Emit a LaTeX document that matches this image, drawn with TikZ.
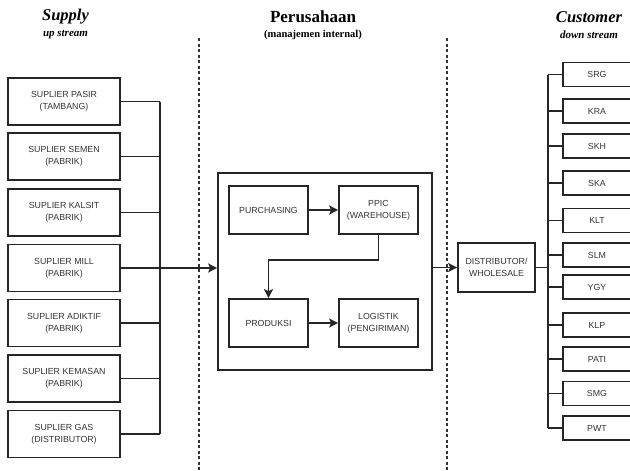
\documentclass[tikz,border=0pt]{standalone}
\usepackage{fontspec}
\setmainfont{Liberation Serif}
\newfontfamily\boxfont{Liberation Sans}
\usetikzlibrary{arrows.meta}

\tikzset{
  unit/.style={draw=black!85, line width=1.7pt, align=center, inner sep=1pt,
    font=\boxfont\fontsize{8.8}{12}\selectfont, text=black!80},
  supbox/.style={unit, minimum width=112pt, minimum height=47pt},
  inbox/.style={unit, minimum width=79pt, minimum height=48pt},
  custbox/.style={unit, minimum width=68pt, minimum height=24pt},
  wire/.style={draw=black!85, line width=1.7pt},
  arr/.style={wire, -{Stealth[length=9pt,width=9pt,inset=2pt]}},
  divider/.style={line width=1.6pt, dash pattern=on 3pt off 2.5pt, black!80}
}

\begin{document}
\begin{tikzpicture}[x=1pt,y=-1pt]
    \clip (0,0) rectangle (630,471);
    \useasboundingbox (0,0) rectangle (630,471);

    % titles
    \node[font=\bfseries\itshape\fontsize{16.5}{18}\selectfont] (supply) at (65.5,17) {Supply};
    \node[font=\bfseries\itshape\fontsize{11}{12}\selectfont] (upstream) at (65.5,35) {up stream};
    \node[font=\bfseries\fontsize{17}{18}\selectfont] (perusahaan) at (313,17) {Perusahaan};
    \node[font=\bfseries\fontsize{10.5}{12}\selectfont] (internal) at (313,35) {(manajemen internal)};
    \node[font=\bfseries\itshape\fontsize{16.5}{18}\selectfont] (customer) at (589,17) {Customer};
    \node[font=\bfseries\itshape\fontsize{11}{12}\selectfont] (downstream) at (589,35) {down stream};

    % dividers
    \coordinate (d1top) at (199,38);
    \coordinate (d1bot) at (199,471);
    \coordinate (d2top) at (447,38);
    \coordinate (d2bot) at (447,471);
    \draw[divider] (d1top) -- (d1bot);
    \draw[divider] (d2top) -- (d2bot);

    % suppliers
    \node[supbox] (pasir) at (64,101.5) {SUPLIER PASIR\\(TAMBANG)};
    \node[supbox] (semen) at (64,156.5) {SUPLIER SEMEN\\(PABRIK)};
    \node[supbox] (kalsit) at (64,212.5) {SUPLIER KALSIT\\(PABRIK)};
    \node[supbox] (mill) at (64,268) {SUPLIER MILL\\(PABRIK)};
    \node[supbox] (adiktif) at (64,323) {SUPLIER ADIKTIF\\(PABRIK)};
    \node[supbox] (kemasan) at (64,378.5) {SUPLIER KEMASAN\\(PABRIK)};
    \node[supbox] (gas) at (64,434) {SUPLIER GAS\\(DISTRIBUTOR)};

    \coordinate (bustop) at (160,101.5);
    \coordinate (busbot) at (160,434);
    \draw[wire] (bustop) -- (busbot);
    \draw[wire] (pasir.east) -- (pasir.east -| bustop);
    \draw[wire] (semen.east) -- (semen.east -| bustop);
    \draw[wire] (kalsit.east) -- (kalsit.east -| bustop);
    \draw[wire] (adiktif.east) -- (adiktif.east -| bustop);
    \draw[wire] (kemasan.east) -- (kemasan.east -| bustop);
    \draw[wire] (gas.east) -- (gas.east -| bustop);

    % company
    \node[unit, minimum width=214pt, minimum height=197pt] (company) at (325,271.5) {};
    \node[inbox] (purchasing) at (268.5,210) {PURCHASING};
    \node[inbox] (ppic) at (378.5,210) {PPIC\\(WAREHOUSE)};
    \node[inbox] (produksi) at (268.5,323) {PRODUKSI};
    \node[inbox] (logistik) at (378.5,323) {LOGISTIK\\(PENGIRIMAN)};

    \draw[arr] (mill.east) -- (mill.east -| company.west);
    \draw[arr] (purchasing) -- (ppic);
    \draw[arr] (ppic.south) -- ++(0,25) -| (produksi.north);
    \draw[arr] (produksi) -- (logistik);

    % distribution
    \node[unit, minimum width=77pt, minimum height=49pt] (distributor) at (496.5,267.5) {DISTRIBUTOR/\\WHOLESALE};
    \draw[arr] (company.east |- distributor) -- (distributor.west);

    \node[custbox] (srg) at (597,74.5) {SRG};
    \node[custbox] (kra) at (597,111) {KRA};
    \node[custbox] (skh) at (597,146) {SKH};
    \node[custbox] (ska) at (597,183) {SKA};
    \node[custbox] (klt) at (597,220.5) {KLT};
    \node[custbox] (slm) at (597,255) {SLM};
    \node[custbox] (ygy) at (597,287) {YGY};
    \node[custbox] (klp) at (597,325) {KLP};
    \node[custbox] (pati) at (597,359) {PATI};
    \node[custbox] (smg) at (597,393.5) {SMG};
    \node[custbox] (pwt) at (597,428) {PWT};

    \coordinate (ctop) at (548,74.5);
    \coordinate (cbot) at (548,428);
    \draw[wire] (ctop) -- (cbot);
    \draw[wire] (distributor.east) -- (distributor.east -| ctop);
    \draw[wire] (srg.west) -- (srg.west -| ctop);
    \draw[wire] (kra.west) -- (kra.west -| ctop);
    \draw[wire] (skh.west) -- (skh.west -| ctop);
    \draw[wire] (ska.west) -- (ska.west -| ctop);
    \draw[wire] (klt.west) -- (klt.west -| ctop);
    \draw[wire] (slm.west) -- (slm.west -| ctop);
    \draw[wire] (ygy.west) -- (ygy.west -| ctop);
    \draw[wire] (klp.west) -- (klp.west -| ctop);
    \draw[wire] (pati.west) -- (pati.west -| ctop);
    \draw[wire] (smg.west) -- (smg.west -| ctop);
    \draw[wire] (pwt.west) -- (pwt.west -| ctop);

\end{tikzpicture}
\end{document}
